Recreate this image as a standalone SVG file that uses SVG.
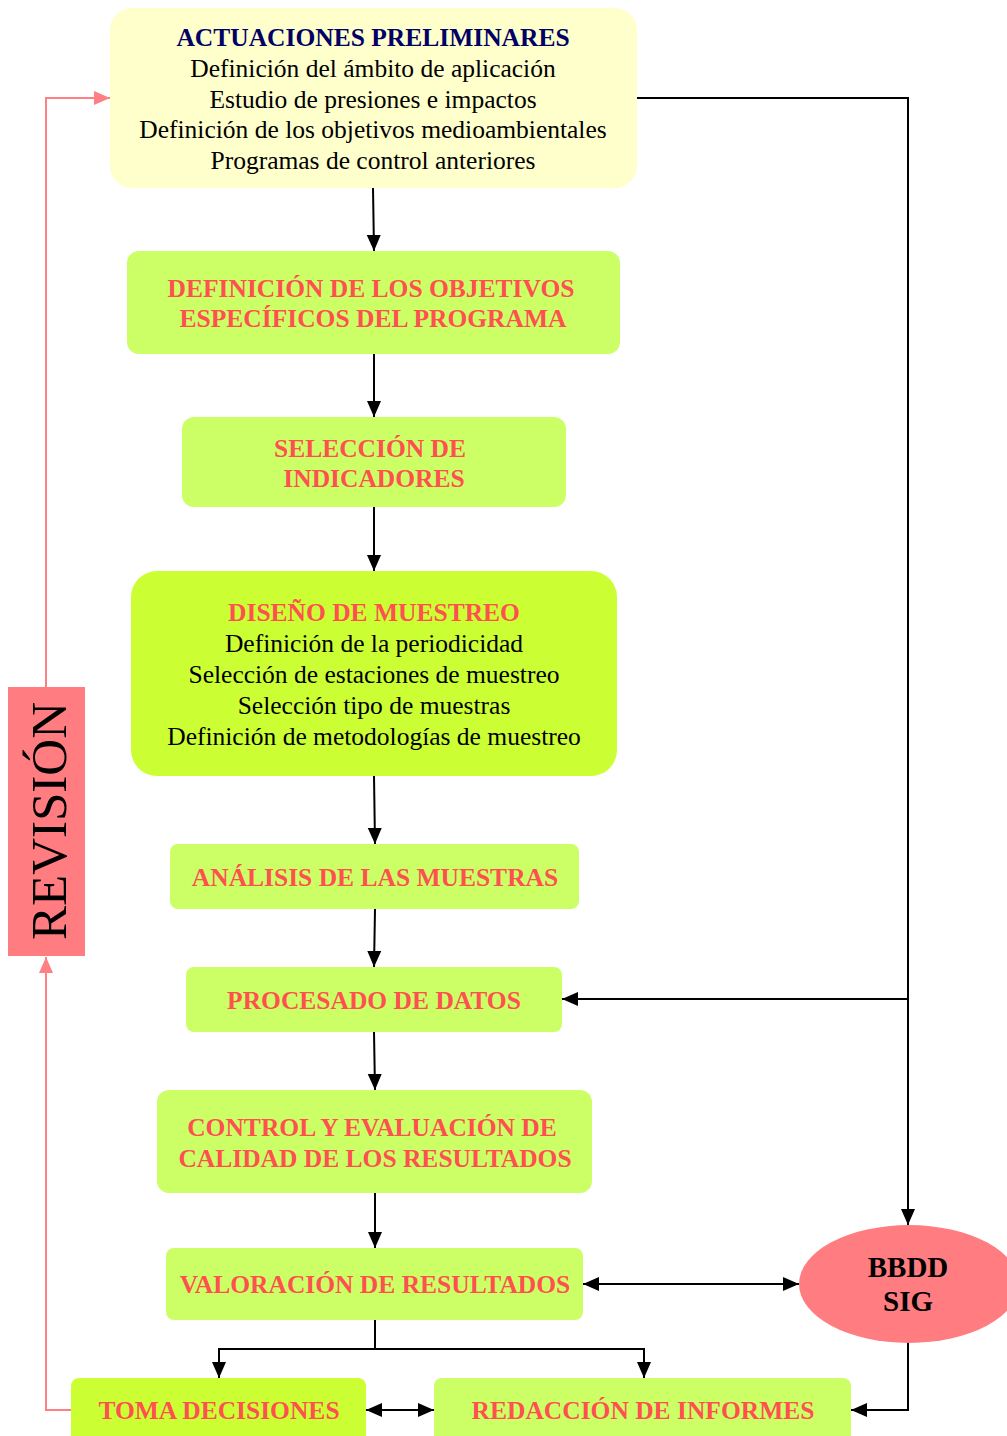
<svg xmlns="http://www.w3.org/2000/svg" width="1007" height="1436" viewBox="0 0 1007 1436">
<style>
.hd{font-family:"Liberation Serif","Times New Roman",serif;font-weight:bold;font-size:25.5px;fill:#FF5050;text-anchor:middle}
.tx{font-family:"Liberation Serif","Times New Roman",serif;font-size:25.5px;fill:#000;text-anchor:middle}
.g1{fill:#CCFF66}
.g2{fill:#CCFF33}
.c{stroke:#000;stroke-width:2;fill:none}
.p{stroke:#FF8084;stroke-width:2;fill:none}
</style>
<defs>
<marker id="a" markerUnits="userSpaceOnUse" markerWidth="16" markerHeight="16" refX="16" refY="8" orient="auto-start-reverse" viewBox="0 0 16 16"><path d="M0,1 L16,8 L0,15 Z" fill="#000"/></marker>
<marker id="ap" markerUnits="userSpaceOnUse" markerWidth="16" markerHeight="16" refX="16" refY="8" orient="auto-start-reverse" viewBox="0 0 16 16"><path d="M0,1 L16,8 L0,15 Z" fill="#FF8084"/></marker>
</defs>
<rect width="1007" height="1436" fill="#fff"/>
<g id="connectors">
<path class="c" d="M373,188 L374,251" marker-end="url(#a)"/>
<path class="c" d="M374,354 L374,417" marker-end="url(#a)"/>
<path class="c" d="M374,507 L374,571" marker-end="url(#a)"/>
<path class="c" d="M374,776 L375,844" marker-end="url(#a)"/>
<path class="c" d="M375,909 L374,967" marker-end="url(#a)"/>
<path class="c" d="M374,1032 L375,1090" marker-end="url(#a)"/>
<path class="c" d="M375,1193 L375,1248" marker-end="url(#a)"/>
<path class="c" d="M637,98 L908,98 L908,1225" marker-end="url(#a)"/>
<path class="c" d="M908,999 L562,999" marker-end="url(#a)"/>
<path class="c" d="M583,1284 L799,1284" marker-start="url(#a)" marker-end="url(#a)"/>
<path class="c" d="M375,1320 L375,1349"/>
<path class="c" d="M375,1349 L219,1349 L219,1378" marker-end="url(#a)"/>
<path class="c" d="M375,1349 L644,1349 L644,1378" marker-end="url(#a)"/>
<path class="c" d="M366,1410 L434,1410" marker-start="url(#a)" marker-end="url(#a)"/>
<path class="c" d="M908,1342 L908,1410 L851,1410" marker-end="url(#a)"/>
<path class="p" d="M71,1410 L46,1410 L46,957" marker-end="url(#ap)"/>
<path class="p" d="M46,687 L46,98 L110,98" marker-end="url(#ap)"/>
</g>
<g id="actuaciones">
<rect x="110" y="8" width="527" height="180" rx="22" fill="#FFFFCC"/>
<text x="373" y="46" class="tx" style="font-weight:bold;fill:#000066">ACTUACIONES PRELIMINARES</text>
<text x="373" y="77" class="tx">Definición del ámbito de aplicación</text>
<text x="373" y="108" class="tx">Estudio de presiones e impactos</text>
<text x="373" y="138" class="tx">Definición de los objetivos medioambientales</text>
<text x="373" y="169" class="tx">Programas de control anteriores</text>
</g>
<g id="objetivos">
<rect x="127" y="251" width="493" height="103" rx="12" class="g1"/>
<text x="371" y="297" class="hd">DEFINICIÓN DE LOS OBJETIVOS</text>
<text x="373" y="327" class="hd">ESPECÍFICOS DEL PROGRAMA</text>
</g>
<g id="indicadores">
<rect x="182" y="417" width="384" height="90" rx="12" class="g1"/>
<text x="370" y="457" class="hd">SELECCIÓN DE</text>
<text x="374" y="487" class="hd">INDICADORES</text>
</g>
<g id="diseno">
<rect x="131" y="571" width="486" height="205" rx="26" class="g2"/>
<text x="374" y="621" class="hd">DISEÑO DE MUESTREO</text>
<text x="374" y="652" class="tx">Definición de la periodicidad</text>
<text x="374" y="683" class="tx">Selección de estaciones de muestreo</text>
<text x="374" y="714" class="tx">Selección tipo de muestras</text>
<text x="374" y="745" class="tx">Definición de metodologías de muestreo</text>
</g>
<g id="analisis">
<rect x="170" y="844" width="409" height="65" rx="8" class="g1"/>
<text x="375" y="886" class="hd">ANÁLISIS DE LAS MUESTRAS</text>
</g>
<g id="procesado">
<rect x="186" y="967" width="376" height="65" rx="8" class="g1"/>
<text x="374" y="1009" class="hd">PROCESADO DE DATOS</text>
</g>
<g id="control">
<rect x="157" y="1090" width="435" height="103" rx="12" class="g1"/>
<text x="372" y="1136" class="hd">CONTROL Y EVALUACIÓN DE</text>
<text x="375" y="1167" class="hd">CALIDAD DE LOS RESULTADOS</text>
</g>
<g id="valoracion">
<rect x="166" y="1248" width="417" height="72" rx="8" class="g1"/>
<text x="375" y="1293" class="hd">VALORACIÓN DE RESULTADOS</text>
</g>
<g id="bbdd">
<ellipse cx="909" cy="1284" rx="110" ry="59" fill="#FF7C80"/>
<text x="908" y="1277" class="hd" style="fill:#000;font-size:29px">BBDD</text>
<text x="908" y="1311" class="hd" style="fill:#000;font-size:29px">SIG</text>
</g>
<g id="toma">
<rect x="71" y="1378" width="295" height="70" rx="8" class="g2"/>
<text x="219" y="1419" class="hd">TOMA DECISIONES</text>
</g>
<g id="redaccion">
<rect x="434" y="1378" width="417" height="70" rx="8" class="g1"/>
<text x="643" y="1419" class="hd">REDACCIÓN DE INFORMES</text>
</g>
<g id="revision">
<rect x="8" y="687" width="77" height="269" fill="#FF7C80"/>
<text transform="translate(66,821) rotate(-90)" class="tx" style="font-size:51px">REVISIÓN</text>
</g>
</svg>
